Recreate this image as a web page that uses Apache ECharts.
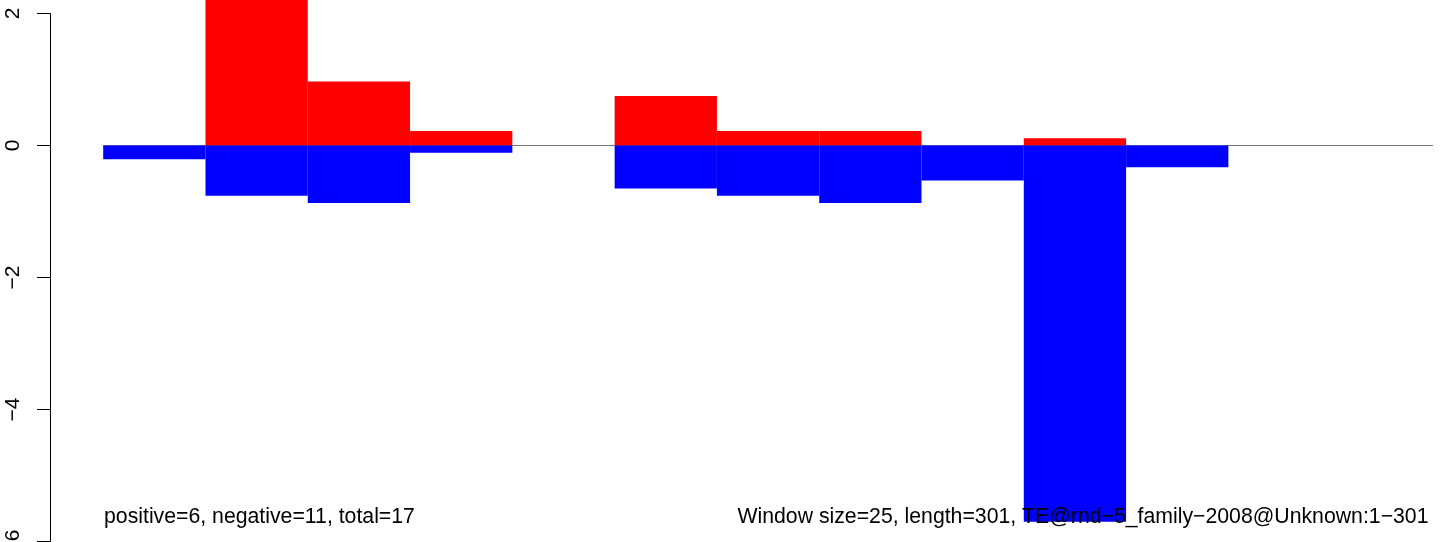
<!DOCTYPE html>
<html>
<head>
<meta charset="utf-8">
<script src="https://cdn.jsdelivr.net/npm/echarts@6/dist/echarts.min.js"></script>
<style>
html,body{margin:0;padding:0;background:#fff;}
#chart{width:1444px;height:542px;}
</style>
</head>
<body>
<div id="chart"></div>
<script>
// window start / end positions (window size 25)
const windowStarts = [0, 25, 50, 75, 100, 125, 150, 175, 200, 225, 250, 275, 300];
const windowEnds   = [25, 50, 75, 100, 125, 150, 175, 200, 225, 250, 275, 300, 325];
// values per window
const positiveValues = [0, 2.6, 0.97, 0.22, 0, 0.75, 0.22, 0.22, 0, 0.11, 0, 0, 0];
const negativeValues = [-0.21, -0.76, -0.87, -0.11, 0, -0.65, -0.76, -0.87, -0.53, -5.70, -0.33, 0, 0];
// y tick labels
const yTickValues = [2, 0, -2, -4, -6];
const yTickLabels = ['2', '0', '\u22122', '\u22124', '\u22126'];
// annotation texts
const leftNote = 'positive=6, negative=11, total=17';
const rightNote = 'Window size=25, length=301, TE@rnd\u22125_family\u22122008@Unknown:1\u2212301';

const FONT = 'Liberation Sans, Arial, Helvetica, sans-serif';

function barData(values) {
  return values.map((v, i) => [windowStarts[i], windowEnds[i], v]);
}

function renderBar(color) {
  return function (params, api) {
    const s = api.value(0), e = api.value(1), v = api.value(2);
    if (v === 0) return null;
    const p0 = api.coord([s, 0]);
    const p1 = api.coord([e, v]);
    const x = p0[0], w = p1[0] - p0[0];
    const y = Math.min(p0[1], p1[1]);
    const h = Math.abs(p1[1] - p0[1]);
    return { type: 'rect', shape: { x: x, y: y, width: w, height: h }, style: { fill: color } };
  };
}

const chart = echarts.init(document.getElementById('chart'), null, { renderer: 'canvas' });
chart.setOption({
  animation: false,
  backgroundColor: '#ffffff',
  grid: { left: 50, right: 0, top: 13.5, bottom: 0.5, containLabel: false, outerBoundsMode: 'none' },
  xAxis: { type: 'value', min: -13, max: 327.7, show: false },
  yAxis: {
    type: 'value', min: -6, max: 2, interval: 2,
    axisLine: { show: true, onZero: false, lineStyle: { color: '#000', width: 1 } },
    axisTick: { show: true, length: 13, lineStyle: { color: '#000', width: 1 } },
    splitLine: { show: false },
    axisLabel: {
      rotate: 90, margin: 26, color: '#000', fontSize: 21, fontFamily: FONT,
      showMinLabel: true, showMaxLabel: true, hideOverlap: false,
      formatter: function (v) { const i = yTickValues.indexOf(v); return i >= 0 ? yTickLabels[i] : ''; }
    }
  },
  series: [
    {
      type: 'line', data: [[windowStarts[0], 0], [windowEnds[windowEnds.length - 1], 0]],
      symbol: 'none', lineStyle: { color: '#777777', width: 1 }, z: 1, silent: true
    },
    { type: 'custom', clip: false, renderItem: renderBar('#FF0000'), data: barData(positiveValues), z: 2, encode: { x: [0, 1], y: 2 } },
    { type: 'custom', clip: false, renderItem: renderBar('#0000FF'), data: barData(negativeValues), z: 3, encode: { x: [0, 1], y: 2 } }
  ],
  graphic: [
    { type: 'text', left: 104, top: 506.5, z: 100,
      style: { text: leftNote, fill: '#000', font: '21.25px ' + FONT } },
    { type: 'text', right: 15.5, top: 506.5, z: 100,
      style: { text: rightNote, fill: '#000', font: '21.25px ' + FONT } }
  ]
});
</script>
</body>
</html>
